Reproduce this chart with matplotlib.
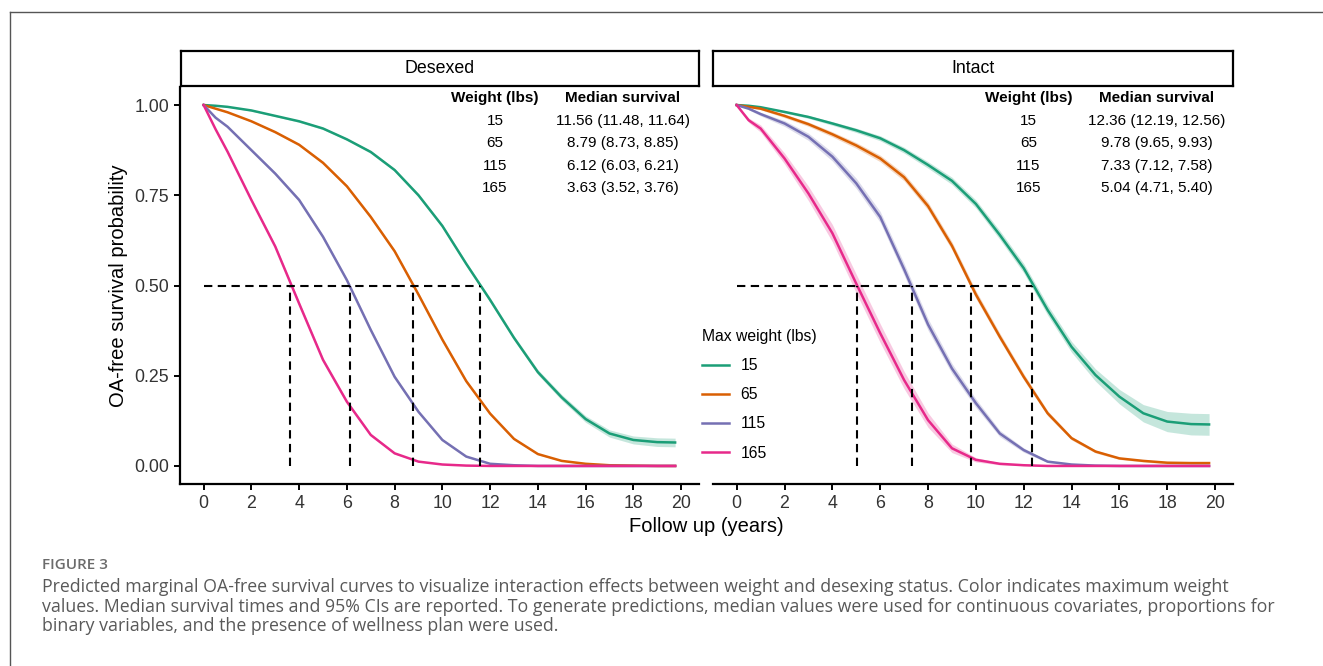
import numpy as np
import matplotlib.pyplot as plt
from matplotlib.lines import Line2D

plt.rcParams["font.family"] = ["Liberation Sans", "DejaVu Sans"]

# ---- data ----
years = [0, 0.5, 1, 2, 3, 4, 5, 6, 7, 8, 9, 10, 11, 12, 13, 14, 15, 16, 17, 18, 19, 19.75]
weights = ["15", "65", "115", "165"]
colors = ["#1B9E77", "#D95F02", "#7570B3", "#E7298A"]

# Desexed survival curves
des_15 = [1.0, 0.998, 0.995, 0.985, 0.97, 0.955, 0.935, 0.905, 0.87, 0.82, 0.75, 0.665,
          0.56, 0.46, 0.355, 0.26, 0.19, 0.13, 0.09, 0.072, 0.066, 0.065]
des_65 = [1.0, 0.99, 0.98, 0.955, 0.925, 0.89, 0.84, 0.775, 0.69, 0.595, 0.475, 0.35,
          0.235, 0.145, 0.075, 0.033, 0.014, 0.006, 0.002, 0.001, 0.0, 0.0]
des_115 = [1.0, 0.965, 0.94, 0.875, 0.81, 0.737, 0.635, 0.515, 0.377, 0.247, 0.15, 0.072,
           0.026, 0.006, 0.002, 0.0, 0.0, 0.0, 0.0, 0.0, 0.0, 0.0]
des_165 = [1.0, 0.933, 0.871, 0.737, 0.608, 0.45, 0.294, 0.178, 0.086, 0.035, 0.012, 0.004,
           0.001, 0.0, 0.0, 0.0, 0.0, 0.0, 0.0, 0.0, 0.0, 0.0]
# half width of the 95% band
des_15_ci = [0, 0, 0.001, 0.002, 0.002, 0.003, 0.003, 0.003, 0.004, 0.004, 0.005, 0.005,
             0.005, 0.006, 0.006, 0.007, 0.008, 0.009, 0.01, 0.011, 0.012, 0.012]
des_65_ci = [0, 0.001, 0.001, 0.002, 0.003, 0.003, 0.004, 0.004, 0.005, 0.005, 0.005, 0.005,
             0.005, 0.004, 0.003, 0.002, 0.001, 0.001, 0, 0, 0, 0]
des_115_ci = [0, 0.001, 0.002, 0.003, 0.004, 0.005, 0.005, 0.005, 0.005, 0.005, 0.004, 0.003,
              0.002, 0.001, 0, 0, 0, 0, 0, 0, 0, 0]
des_165_ci = [0, 0.002, 0.003, 0.004, 0.005, 0.006, 0.006, 0.005, 0.004, 0.002, 0.001, 0,
              0, 0, 0, 0, 0, 0, 0, 0, 0, 0]

# Intact survival curves
int_15 = [1.0, 0.998, 0.994, 0.981, 0.967, 0.949, 0.93, 0.908, 0.875, 0.834, 0.79, 0.726,
          0.64, 0.548, 0.432, 0.33, 0.252, 0.192, 0.146, 0.123, 0.116, 0.115]
int_65 = [1.0, 0.995, 0.99, 0.97, 0.947, 0.919, 0.888, 0.852, 0.80, 0.72, 0.61, 0.475,
          0.358, 0.247, 0.146, 0.077, 0.04, 0.021, 0.014, 0.009, 0.008, 0.008]
int_115 = [1.0, 0.99, 0.975, 0.949, 0.912, 0.857, 0.783, 0.69, 0.545, 0.392, 0.27, 0.174,
           0.09, 0.044, 0.012, 0.004, 0.001, 0.0, 0.0, 0.0, 0.0, 0.0]
int_165 = [1.0, 0.958, 0.935, 0.852, 0.755, 0.645, 0.505, 0.368, 0.238, 0.127, 0.049, 0.017,
           0.006, 0.002, 0.0, 0.0, 0.0, 0.0, 0.0, 0.0, 0.0, 0.0]
int_15_ci = [0, 0.001, 0.002, 0.003, 0.004, 0.005, 0.006, 0.007, 0.008, 0.009, 0.01, 0.011,
             0.012, 0.013, 0.014, 0.015, 0.017, 0.02, 0.024, 0.028, 0.03, 0.03]
int_65_ci = [0, 0.002, 0.003, 0.005, 0.006, 0.007, 0.008, 0.009, 0.01, 0.011, 0.011, 0.011,
             0.01, 0.009, 0.007, 0.005, 0.004, 0.003, 0.003, 0.003, 0.003, 0.003]
int_115_ci = [0, 0.003, 0.005, 0.008, 0.01, 0.012, 0.014, 0.015, 0.016, 0.016, 0.014, 0.012,
              0.009, 0.006, 0.003, 0.001, 0, 0, 0, 0, 0, 0]
int_165_ci = [0, 0.006, 0.01, 0.015, 0.02, 0.024, 0.026, 0.026, 0.024, 0.02, 0.012, 0.006,
              0.003, 0.001, 0, 0, 0, 0, 0, 0, 0, 0]

# median survival (95% CI)
des_median = [11.56, 8.79, 6.12, 3.63]
des_low = [11.48, 8.73, 6.03, 3.52]
des_high = [11.64, 8.85, 6.21, 3.76]
int_median = [12.36, 9.78, 7.33, 5.04]
int_low = [12.19, 9.65, 7.12, 4.71]
int_high = [12.56, 9.93, 7.58, 5.40]

caption_lines = [
    "Predicted marginal OA-free survival curves to visualize interaction effects between weight and desexing status. Color indicates maximum weight",
    "values. Median survival times and 95% CIs are reported. To generate predictions, median values were used for continuous covariates, proportions for",
    "binary variables, and the presence of wellness plan were used.",
]

# ---- layout helpers (pixel boxes) ----
W, H = 1323, 666


def box(x0, y0, x1, y1):
    return [x0 / W, 1 - y1 / H, (x1 - x0) / W, (y1 - y0) / H]


fig = plt.figure(figsize=(W / 100, H / 100), dpi=100)

panels = [
    ("Desexed", box(180, 87, 699, 484), box(181, 51, 699, 86),
     [des_15, des_65, des_115, des_165], [des_15_ci, des_65_ci, des_115_ci, des_165_ci],
     des_median, des_low, des_high),
    ("Intact", box(713, 87, 1233, 484), box(713, 51, 1233, 86),
     [int_15, int_65, int_115, int_165], [int_15_ci, int_65_ci, int_115_ci, int_165_ci],
     int_median, int_low, int_high),
]

dash = (0, (4, 2.6))
for i, (name, rect, srect, curves, cis, med, lo, hi) in enumerate(panels):
    ax = fig.add_axes(rect)
    for s, c, col in zip(curves, cis, colors):
        s = np.array(s)
        c = np.array(c)
        ax.fill_between(years, s - c, s + c, color=col, alpha=0.25, lw=0)
        ax.plot(years, s, color=col, lw=1.8, solid_joinstyle="round")
    ax.hlines(0.5, 0, max(med), colors="black", linestyles=dash, lw=1.5)
    ax.vlines(med, 0, 0.5, colors="black", linestyles=dash, lw=1.5)

    ax.set_xlim(-0.99, 20.75)
    ax.set_ylim(-0.05, 1.05)
    ax.set_xticks(range(0, 21, 2))
    ax.set_yticks([0, 0.25, 0.5, 0.75, 1.0])
    ax.set_yticklabels(["0.00", "0.25", "0.50", "0.75", "1.00"])
    ax.tick_params(labelsize=12.8, colors="black", labelcolor="#333333",
                   length=4, width=1.4, pad=4)
    for sp in ["top", "right"]:
        ax.spines[sp].set_visible(False)
    ax.spines["bottom"].set_linewidth(1.6)
    ax.spines["left"].set_linewidth(1.6)
    if i == 1:
        ax.spines["left"].set_visible(False)
        ax.tick_params(left=False, labelleft=False)

    # median survival table
    ax.text(12.2, 1.019, "Weight (lbs)", ha="center", va="center", fontsize=11, fontweight="bold")
    ax.text(17.56, 1.019, "Median survival", ha="center", va="center", fontsize=11, fontweight="bold")
    for k in range(4):
        y = 0.957 - k * 0.0625
        ax.text(12.2, y, weights[k], ha="center", va="center", fontsize=11)
        ax.text(17.56, y, f"{med[k]:.2f} ({lo[k]:.2f}, {hi[k]:.2f})",
                ha="center", va="center", fontsize=11)

    # facet strip
    sax = fig.add_axes(srect)
    sax.set_xticks([])
    sax.set_yticks([])
    for sp in sax.spines.values():
        sp.set_linewidth(1.6)
    sax.text(0.5, 0.5, name, ha="center", va="center", fontsize=12.8, transform=sax.transAxes)

fig.text(118 / W, 1 - 285.5 / H, "OA-free survival probability", rotation=90,
         ha="center", va="center", fontsize=14.5)
fig.text(706.5 / W, 1 - 526 / H, "Follow up (years)", ha="center", va="center", fontsize=14.5)

handles = [Line2D([], [], color=c, lw=1.8) for c in colors]
fig.legend(handles, weights, title="Max weight (lbs)", loc="upper left",
           bbox_to_anchor=(702 / W, 1 - 329 / H), frameon=False, fontsize=11.3,
           title_fontsize=11.3, handlelength=1.7, handletextpad=0.75, labelspacing=0.9,
           borderpad=0, borderaxespad=0, alignment="left")

# page frame and caption
fig.add_artist(Line2D([10 / W, 10 / W], [0, 1 - 12 / H], transform=fig.transFigure,
                      color="#555555", lw=1))
fig.add_artist(Line2D([10 / W, 1], [1 - 12 / H, 1 - 12 / H], transform=fig.transFigure,
                      color="#555555", lw=1))
fig.text(42 / W, 1 - 565 / H, "FIGURE 3", fontfamily="Open Sans", fontweight="semibold",
         fontsize=11, color="#6b6b6b", va="center")
for k, line in enumerate(caption_lines):
    fig.text(42 / W, 1 - (587 + k * 19.5) / H, line, fontfamily="Open Sans",
             fontsize=12.8, color="#595959", va="center")

fig.savefig("out.png", dpi=100)
